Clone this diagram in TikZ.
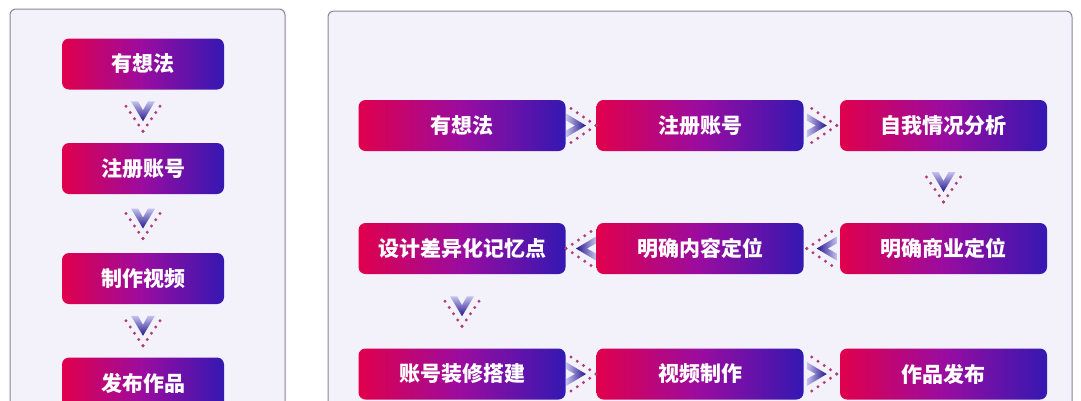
\documentclass[tikz,border=0pt]{standalone}
\usepackage{fontspec}
\newfontfamily\cjk{Noto Sans CJK SC}
\usetikzlibrary{calc}
\definecolor{pfill}{HTML}{F3F1F9}
\definecolor{pborder}{HTML}{8E8299}
\definecolor{gl}{HTML}{E0004C}
\definecolor{gm}{HTML}{9A0CA0}
\definecolor{gr}{HTML}{3418B2}
\definecolor{dotc}{HTML}{B03C78}
\definecolor{chl}{HTML}{C4C2EE}
\definecolor{chd}{HTML}{24148C}
\tikzset{
  panel/.style={draw=pborder, line width=1pt, fill=pfill, rounded corners=6pt},
  stepbox/.style={rounded corners=7pt, left color=gl, right color=gr, middle color=gm,
    text=white, font=\cjk\bfseries\fontsize{21}{25}\selectfont, inner sep=0pt,
    minimum height=51pt},
  lbox/.style={stepbox, minimum width=162pt},
  rbox/.style={stepbox, minimum width=207pt},
  chev/.pic={
    \path[chevshade] (-12,-15) -- (-5,-15) -- (0,-6) -- (5,-15) -- (12,-15) -- (0,5) -- cycle;
    \foreach \t in {0,0.25,0.5,0.75,1}{
      \fill[dotc] (-17+17*\t,-10+25*\t) circle (1.6);
      \fill[dotc] (17-17*\t,-10+25*\t) circle (1.6);
    }
  },
  downchev/.style={chevshade/.style={top color=chl, bottom color=chd}},
  rightchev/.style={rotate=90, chevshade/.style={left color=chl, right color=chd}},
  leftchev/.style={rotate=-90, chevshade/.style={right color=chl, left color=chd}},
}
\begin{document}
\begin{tikzpicture}[x=1pt,y=-1pt]
\useasboundingbox (0,0) rectangle (1081,400);
\fill[white] (0,0) rectangle (1081,400);
\clip (0,0) rectangle (1081,400);
% panels
\draw[panel] (10,9) rectangle (285,440);
\draw[panel] (328,11) rectangle (1072,440);
% left column
\node[lbox] (L1) at (143,64) {有想法};
\node[lbox] (L2) at (143,168.5) {注册账号};
\node[lbox] (L3) at (143,278.5) {制作视频};
\node[lbox] (L4) at (143,383) {发布作品};
\pic[downchev] at ($(L1.south)!0.5!(L2.north)$) {chev};
\pic[downchev] at ($(L2.south)!0.5!(L3.north)$) {chev};
\pic[downchev] at ($(L3.south)!0.5!(L4.north)$) {chev};
% right grid
\node[rbox] (A1) at (462,125.5) {有想法};
\node[rbox] (A2) at (700,125.5) {注册账号};
\node[rbox] (A3) at (943.5,125.5) {自我情况分析};
\node[rbox] (B1) at (462,248.5) {设计差异化记忆点};
\node[rbox] (B2) at (700,248.5) {明确内容定位};
\node[rbox] (B3) at (943.5,248.5) {明确商业定位};
\node[rbox] (C1) at (462,374) {账号装修搭建};
\node[rbox] (C2) at (700,374) {视频制作};
\node[rbox] (C3) at (943.5,374) {作品发布};
\pic[rightchev] at ($(A1.east)!0.5!(A2.west)$) {chev};
\pic[rightchev] at ($(A2.east)!0.5!(A3.west)$) {chev};
\pic[downchev] at ($(A3.south)!0.5!(B3.north)$) {chev};
\pic[leftchev] at ($(B2.east)!0.5!(B3.west)$) {chev};
\pic[leftchev] at ($(B1.east)!0.5!(B2.west)$) {chev};
\pic[downchev] at ($(B1.south)!0.5!(C1.north)$) {chev};
\pic[rightchev] at ($(C1.east)!0.5!(C2.west)$) {chev};
\pic[rightchev] at ($(C2.east)!0.5!(C3.west)$) {chev};
\end{tikzpicture}
\end{document}
